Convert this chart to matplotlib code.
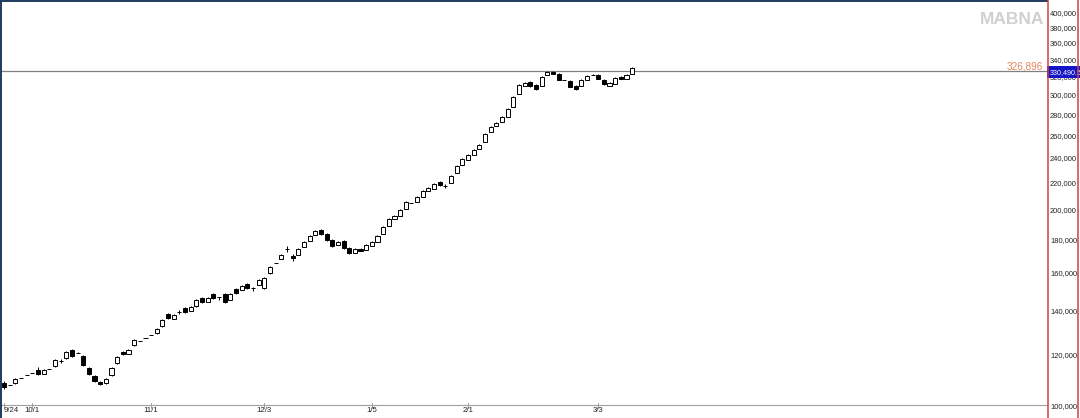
import matplotlib
matplotlib.use('Agg')
import matplotlib.pyplot as plt
from matplotlib.lines import Line2D
from matplotlib.transforms import blended_transform_factory

plt.rcParams['font.family'] = ['Liberation Sans', 'DejaVu Sans']

# daily candles (MABNA)
opens = [108800, 108100, 108800, 110800, 111900, 112700, 113900, 112300, 114300, 115600,
         117600, 118900, 122300, 121000, 119700, 114700, 111500, 109200, 108800, 111900,
         116800, 121400, 120600, 124400, 126200, 127600, 128900, 129800, 133100, 138800,
         136400, 139800, 141800, 140300, 142800, 146900, 144800, 149000, 147400, 149000,
         145800, 151600, 151100, 154300, 152200, 153800, 152200, 160400, 166200, 168500,
         174600, 170300, 170900, 175800, 179600, 183400, 186700, 184100, 180200, 177100,
         179600, 175200, 172100, 174600, 174000, 176500, 179000, 184100, 189300, 194100,
         196100, 201000, 205300, 206100, 209700, 214200, 215700, 221100, 218000, 220400,
         228300, 234800, 239000, 243200, 248400, 254700, 263800, 269400, 273300, 278100,
         288100, 301600, 310300, 314700, 311400, 310300, 322500, 326000, 323700, 316900,
         315800, 310300, 310300, 316900, 322500, 322500, 316900, 310300, 312500, 320300,
         318000, 323700]
closes = [107300, 108100, 110400, 110800, 111900, 112700, 112300, 113900, 114300, 118000,
          117600, 121400, 119700, 121000, 116000, 112300, 109600, 108400, 110400, 114700,
          119300, 120600, 122300, 126700, 126200, 127600, 128900, 131700, 135900, 136900,
          138300, 139800, 139800, 142300, 145800, 144800, 146900, 146900, 147400, 144800,
          149000, 149500, 153200, 152200, 152200, 156500, 157600, 163900, 166200, 170900,
          174600, 169100, 174600, 179000, 182800, 186000, 184100, 180200, 176500, 179000,
          175200, 172100, 174600, 173400, 177100, 179000, 182800, 188700, 194100, 196100,
          200300, 206100, 205300, 209700, 214200, 216500, 219600, 218800, 218000, 225900,
          234000, 239800, 243200, 247600, 252000, 261900, 268500, 272300, 278100, 286100,
          298500, 311400, 313600, 310300, 307000, 320300, 326000, 323700, 316900, 316900,
          309200, 307000, 316900, 321400, 322500, 318000, 312500, 313600, 319200, 318000,
          322500, 330490.5]
highs = [109600, 108100, 110800, 110800, 111900, 112700, 115200, 114300, 114300, 118500,
         118500, 121800, 122700, 121400, 120100, 115200, 111900, 109600, 110800, 115200,
         119700, 121800, 122700, 127100, 126200, 127600, 128900, 132100, 136400, 139300,
         138800, 140800, 142300, 142800, 146400, 147400, 147400, 149500, 147400, 149500,
         149500, 152200, 153800, 154900, 152700, 157100, 158200, 164400, 166200, 171500,
         176500, 171500, 175200, 179600, 183400, 186700, 187400, 184700, 180900, 179600,
         180200, 175800, 175200, 175200, 177700, 179600, 183400, 189300, 194800, 196800,
         201000, 206800, 205300, 210500, 215000, 217300, 220400, 221900, 219600, 226700,
         234800, 240700, 244100, 248400, 252900, 262900, 269400, 273300, 279100, 287100,
         299500, 312500, 314700, 315800, 312500, 321400, 327100, 327100, 324800, 316900,
         316900, 311400, 318000, 322500, 323700, 323700, 318000, 314700, 320300, 321400,
         323700, 331800]
lows = [106600, 108100, 108400, 110800, 111900, 112700, 111900, 112300, 114300, 115200,
        116800, 118500, 119300, 121000, 115600, 111900, 109200, 108100, 108400, 111500,
        116400, 120100, 120600, 124000, 126200, 127600, 128900, 129400, 132600, 136400,
        136400, 138800, 139300, 140300, 142300, 144300, 144800, 146400, 145800, 144300,
        145800, 149000, 151100, 151600, 150500, 153800, 151600, 159900, 166200, 168500,
        172800, 167400, 170900, 175800, 179600, 183400, 183400, 179600, 175800, 177100,
        174600, 171500, 172100, 173400, 174000, 176500, 179000, 184100, 189300, 194100,
        196100, 201000, 205300, 206100, 209700, 214200, 215700, 218000, 216500, 220400,
        228300, 234800, 239000, 243200, 248400, 254700, 263800, 269400, 273300, 278100,
        288100, 301600, 310300, 309200, 305900, 310300, 322500, 323700, 316900, 316900,
        309200, 305900, 310300, 316900, 322500, 318000, 311400, 310300, 312500, 318000,
        318000, 323700]

date_pos = [0, 5, 26, 46, 65, 82, 105]
date_labels = ['9/24', '10/1', '11/1', '12/3', '1/5', '2/1', '3/3']
y_ticks = [100000, 120000, 140000, 160000, 180000, 200000, 220000, 240000, 260000,
           280000, 300000, 320000, 340000, 360000, 380000, 400000]
level = 326896
last_price = 330490.5

W, H = 1080, 418
fig = plt.figure(figsize=(W / 100, H / 100), dpi=100)
fig.patch.set_facecolor('white')
ax = fig.add_axes([2 / W, 1 - 405 / H, 1045 / W, 403 / H])
ax.set_yscale('log')
ax.set_ylim(100700, 417300)
ax.set_xlim(-0.35, 184.3)
for s in ax.spines.values():
    s.set_visible(False)
ax.set_xticks([])
ax.set_yticks([])
ax.yaxis.set_minor_locator(matplotlib.ticker.NullLocator())

# candles
x = list(range(len(opens)))
ax.vlines(x, lows, highs, color='black', lw=0.7, zorder=2)
bottoms = [min(o, c) for o, c in zip(opens, closes)]
heights = [abs(c - o) for o, c in zip(opens, closes)]
colors = ['white' if c >= o else 'black' for o, c in zip(opens, closes)]
ax.bar(x, heights, bottom=bottoms, width=0.72, color=colors,
       edgecolor='black', linewidth=0.7, zorder=3)

# level line
ax.axhline(level, color='#808080', lw=0.9, zorder=1)

fy = blended_transform_factory(fig.transFigure, ax.transData)
ax.text(1043 / W, level, f'{level:,}', transform=fy, ha='right', va='bottom',
        fontsize=7.2, color='#e8845a')

# right price scale
for v in y_ticks:
    ax.text(1050 / W, v, f'{v:,}', transform=fy, ha='left', va='center',
            fontsize=5.4, color='#222222', clip_on=False, zorder=4)
ax.annotate(f'{last_price:,}', xy=(1049.5 / W, last_price), xycoords=fy,
            xytext=(0, -3), textcoords='offset points', ha='left', va='center',
            fontsize=5.1, color='white', annotation_clip=False, zorder=6,
            bbox=dict(boxstyle='square,pad=0.35', facecolor='#1414c8', edgecolor='none'))

# date strip
fx = blended_transform_factory(ax.transData, fig.transFigure)
for p, lab in zip(date_pos, date_labels):
    ax.add_line(Line2D([p, p], [1 - 403 / H, 1 - 408 / H], transform=fx,
                       color='#909090', lw=0.6, clip_on=False))
    ax.text(p, 1 - 411 / H, lab, transform=fx, ha='left' if p == 0 else 'center',
            va='center', fontsize=5.6, color='#222222', clip_on=False)


def px_line(x0, y0, x1, y1, color, lw):
    fig.add_artist(Line2D([x0 / W, x1 / W], [1 - y0 / H, 1 - y1 / H],
                          color=color, lw=lw))


px_line(0, 405, 1047, 405, '#a0a0a0', 0.8)
px_line(0, 417.5, 1080, 417.5, '#b0b0b0', 0.8)
px_line(0.7, 0, 0.7, 418, '#1f3a5f', 1.4)
px_line(0, 0.7, 1047, 0.7, '#1f3a5f', 1.4)
px_line(1047.5, 0, 1047.5, 418, '#d04040', 1.1)
px_line(1077.5, 0, 1077.5, 418, '#d04040', 1.1)

fig.text(1012 / W, 1 - 19 / H, 'MABNA', fontsize=12.5, fontweight='bold',
         color='#d0d0d0', ha='center', va='center')

fig.savefig('out.png', dpi=100)
